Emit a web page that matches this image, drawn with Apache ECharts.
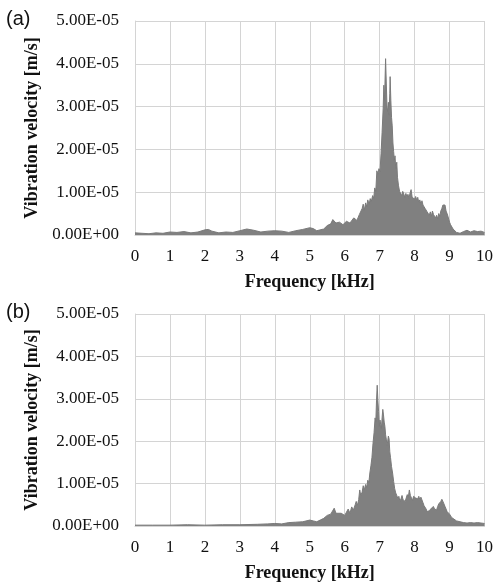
<!DOCTYPE html>
<html lang="en">
<head>
    <meta charset="UTF-8">
    <script src="https://cdn.jsdelivr.net/npm/echarts@6/dist/echarts.min.js"></script>
    <title>Vibration velocity spectrum</title>
    <style>
        html, body { margin: 0; padding: 0; background: #fff; }
        #main { width: 496px; height: 583px; }
    </style>
</head>
<body>
<div id="main"></div>

<script>
    // values in units of 1E-05 m/s, frequency in kHz
    var freqA = [0, 0.2, 0.4, 0.6, 0.8, 1.0, 1.2, 1.4, 1.6, 1.8, 2.0, 2.1, 2.2, 2.4, 2.6, 2.8, 3.0, 3.2, 3.4, 3.6, 3.8,
        4.0, 4.2, 4.4, 4.6, 4.8, 5.0, 5.1, 5.2, 5.4, 5.5, 5.6, 5.66, 5.75, 5.85, 5.95, 6.05, 6.15, 6.26, 6.35, 6.42,
        6.50, 6.53, 6.56, 6.60, 6.63, 6.66, 6.70, 6.73, 6.76, 6.80, 6.83, 6.86, 6.89, 6.92, 6.95, 6.98, 7.01, 7.04,
        7.07, 7.10, 7.12, 7.14, 7.17, 7.19, 7.21, 7.23, 7.25, 7.27, 7.29, 7.30, 7.32, 7.34, 7.36, 7.38, 7.40, 7.42,
        7.44, 7.46, 7.49, 7.51, 7.54, 7.57, 7.60, 7.63, 7.66, 7.69, 7.72, 7.75, 7.78, 7.81, 7.84, 7.87, 7.90, 7.93,
        7.96, 8.00, 8.03, 8.06, 8.09, 8.12, 8.15, 8.18, 8.21, 8.24, 8.27, 8.30, 8.33, 8.36, 8.39, 8.42, 8.45, 8.48,
        8.51, 8.54, 8.57, 8.60, 8.63, 8.66, 8.69, 8.72, 8.75, 8.78, 8.81, 8.84, 8.87, 8.90, 8.93, 8.96, 9.00, 9.03,
        9.06, 9.10, 9.2, 9.3, 9.4, 9.5, 9.6, 9.7, 9.8, 9.9, 10.0];
    var velA = [0.05, 0.04, 0.03, 0.05, 0.04, 0.07, 0.06, 0.08, 0.05, 0.07, 0.12, 0.13, 0.09, 0.05, 0.07, 0.06, 0.10, 0.14, 0.11, 0.07, 0.09,
        0.10, 0.09, 0.06, 0.10, 0.13, 0.17, 0.15, 0.10, 0.14, 0.22, 0.26, 0.36, 0.28, 0.30, 0.24, 0.32, 0.28, 0.40, 0.34, 0.48,
        0.62, 0.72, 0.58, 0.75, 0.66, 0.82, 0.72, 0.85, 0.78, 0.92, 0.86, 1.10, 1.02, 1.50, 1.42, 1.55, 1.48, 1.90,
        2.40, 2.95, 3.50, 3.15, 4.12, 3.55, 3.00, 2.88, 3.10, 2.80, 3.30, 3.70, 3.15, 2.75, 2.55, 2.15, 1.95, 1.75,
        1.85, 1.55, 1.70, 1.35, 1.15, 1.02, 1.05, 0.92, 1.02, 0.96, 0.88, 0.97, 0.90, 0.95, 0.86, 0.98, 1.06, 0.88,
        0.92, 0.84, 0.90, 0.82, 0.88, 0.76, 0.82, 0.72, 0.80, 0.70, 0.74, 0.62, 0.66, 0.54, 0.58, 0.46, 0.54, 0.44,
        0.56, 0.48, 0.52, 0.40, 0.46, 0.38, 0.50, 0.44, 0.56, 0.62, 0.70, 0.66, 0.70, 0.56, 0.50, 0.42, 0.30, 0.24,
        0.20, 0.14, 0.06, 0.04, 0.08, 0.11, 0.07, 0.10, 0.08, 0.09, 0.06];

    var freqB = [0, 0.5, 1.0, 1.5, 2.0, 2.5, 3.0, 3.5, 3.8, 4.0, 4.2, 4.4, 4.6, 4.8, 5.0, 5.1, 5.2, 5.3, 5.4, 5.5, 5.6,
        5.7, 5.75, 5.8, 5.9, 6.0, 6.1, 6.15, 6.2, 6.25,
        6.30, 6.33, 6.36, 6.40, 6.43, 6.46, 6.50, 6.53, 6.56, 6.60, 6.63, 6.66, 6.69, 6.72, 6.75, 6.78, 6.81, 6.84,
        6.87, 6.89, 6.91, 6.93, 6.95, 6.97, 6.99, 7.01, 7.03, 7.05, 7.07, 7.09, 7.11, 7.13, 7.15, 7.17, 7.19, 7.21,
        7.23, 7.25, 7.27, 7.29, 7.31, 7.34, 7.37, 7.40, 7.43, 7.46, 7.49, 7.52, 7.55, 7.58, 7.61, 7.64, 7.67, 7.70,
        7.73, 7.76, 7.79, 7.82, 7.85, 7.88, 7.91, 7.94, 7.97, 8.00, 8.03, 8.06, 8.09, 8.12, 8.15, 8.18, 8.21, 8.24,
        8.27, 8.30, 8.33, 8.36, 8.39, 8.42, 8.45, 8.48, 8.51, 8.54, 8.57, 8.60, 8.63, 8.66, 8.69, 8.72, 8.75, 8.78,
        8.81, 8.84, 8.87, 8.90, 8.93, 8.96, 9.00, 9.03, 9.06, 9.10, 9.2, 9.3, 9.4, 9.5, 9.6, 9.7, 9.8, 9.9, 10.0];
    var velB = [0.02, 0.02, 0.02, 0.03, 0.02, 0.03, 0.03, 0.04, 0.05, 0.06, 0.05, 0.08, 0.09, 0.10, 0.14, 0.12, 0.10, 0.14, 0.18, 0.25, 0.28,
        0.42, 0.30, 0.26, 0.30, 0.25, 0.40, 0.30, 0.45, 0.38,
        0.50, 0.58, 0.48, 0.62, 0.85, 0.72, 0.80, 0.95, 0.85, 0.98, 0.90, 1.08, 1.02, 1.25, 1.42, 1.62, 1.95, 2.20,
        2.55, 2.45, 2.95, 3.32, 2.95, 2.70, 2.35, 2.50, 2.40, 2.30, 2.55, 2.75, 2.62, 2.45, 2.35, 2.15, 2.05, 1.90,
        2.00, 2.12, 2.05, 1.75, 1.62, 1.40, 1.25, 1.05, 0.88, 0.78, 0.72, 0.65, 0.70, 0.58, 0.64, 0.72, 0.62, 0.66,
        0.58, 0.66, 0.74, 0.68, 0.85, 0.72, 0.66, 0.60, 0.70, 0.74, 0.66, 0.70, 0.64, 0.70, 0.62, 0.68, 0.64, 0.55,
        0.48, 0.44, 0.40, 0.34, 0.30, 0.36, 0.32, 0.42, 0.38, 0.46, 0.40, 0.44, 0.38, 0.46, 0.52, 0.48, 0.58, 0.63,
        0.58, 0.52, 0.46, 0.40, 0.34, 0.30, 0.28, 0.24, 0.20, 0.16, 0.12, 0.10, 0.08, 0.07, 0.08, 0.07, 0.08, 0.07, 0.06];

    var xTicks = ['0', '1', '2', '3', '4', '5', '6', '7', '8', '9', '10'];
    var yTicks = ['0.00E+00', '1.00E-05', '2.00E-05', '3.00E-05', '4.00E-05', '5.00E-05'];

    function pairs(xs, ys) {
        var out = [];
        for (var i = 0; i < xs.length; i++) {
            out.push([xs[i], ys[i]]);
        }
        return out;
    }

    var serif = '"Liberation Serif", "Times New Roman", serif';
    var gridColor = '#d4d4d4';

    function xAxisFor(idx) {
        return {
            type: 'value', gridIndex: idx, min: 0, max: 10, interval: 1,
            name: 'Frequency [kHz]', nameLocation: 'middle', nameGap: 38,
            nameTextStyle: { fontFamily: serif, fontWeight: 'bold', fontSize: 18, color: '#111' },
            axisLine: { show: true, lineStyle: { color: gridColor } },
            axisTick: { show: false },
            axisLabel: {
                margin: 13, fontFamily: serif, fontSize: 17, color: '#111',
                formatter: function (v) { return xTicks[Math.round(v)]; }
            },
            splitLine: { show: true, lineStyle: { color: gridColor, width: 1 } }
        };
    }

    function yAxisFor(idx) {
        return {
            type: 'value', gridIndex: idx, min: 0, max: 5, interval: 1,
            name: 'Vibration velocity [m/s]', nameLocation: 'middle', nameGap: 86,
            nameTextStyle: { fontFamily: serif, fontWeight: 'bold', fontSize: 18, color: '#111' },
            axisLine: { show: true, lineStyle: { color: gridColor } },
            axisTick: { show: false },
            axisLabel: {
                margin: 16, fontFamily: serif, fontSize: 17, color: '#111',
                formatter: function (v) { return yTicks[Math.round(v)]; }
            },
            splitLine: { show: true, lineStyle: { color: gridColor, width: 1 } }
        };
    }

    function spectrum(idx, data) {
        return {
            type: 'line', xAxisIndex: idx, yAxisIndex: idx,
            data: data, symbol: 'none', smooth: false, animation: false,
            lineStyle: { color: '#7a7a7a', width: 1 },
            areaStyle: { color: '#808080', opacity: 1 }
        };
    }

    var myChart = echarts.init(document.getElementById('main'));

    var option = {
        backgroundColor: '#fff',
        animation: false,
        graphic: [
            { type: 'text', left: 6, top: 9, style: { text: '(a)', font: '20px "Liberation Sans", Arial, sans-serif', fill: '#111' } },
            { type: 'text', left: 6, top: 302, style: { text: '(b)', font: '20px "Liberation Sans", Arial, sans-serif', fill: '#111' } }
        ],
        grid: [
            { left: 135, top: 21, width: 351, height: 214 },
            { left: 135, top: 314, width: 351, height: 215 }
        ],
        xAxis: [xAxisFor(0), xAxisFor(1)],
        yAxis: [yAxisFor(0), yAxisFor(1)],
        series: [
            spectrum(0, pairs(freqA, velA)),
            spectrum(1, pairs(freqB, velB))
        ]
    };

    myChart.setOption(option);
</script>
</body>
</html>
